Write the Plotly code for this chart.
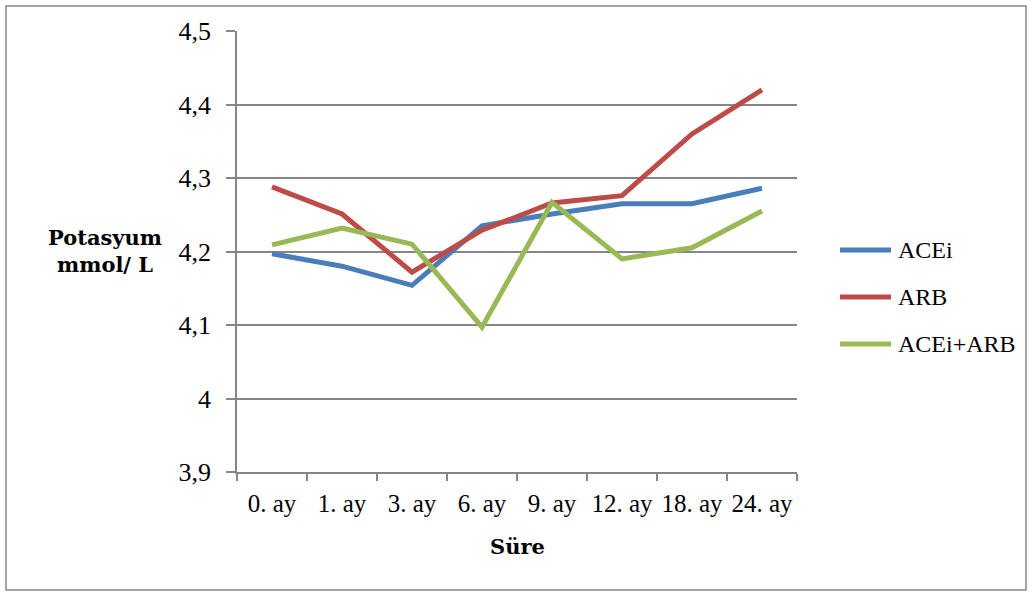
import plotly.graph_objects as go

# Serum potassium over follow-up, by treatment group
months = ["0. ay", "1. ay", "3. ay", "6. ay", "9. ay", "12. ay", "18. ay", "24. ay"]
acei = [4.197, 4.180, 4.154, 4.235, 4.251, 4.265, 4.265, 4.286]
arb = [4.288, 4.251, 4.172, 4.229, 4.266, 4.276, 4.360, 4.420]
acei_arb = [4.209, 4.232, 4.210, 4.097, 4.267, 4.190, 4.205, 4.255]

series = [
    ("ACEi", acei, "#4A7EBB"),
    ("ARB", arb, "#BE4B48"),
    ("ACEi+ARB", acei_arb, "#98B954"),
]

y_ticks = [3.9, 4.0, 4.1, 4.2, 4.3, 4.4, 4.5]
y_tick_text = ["3,9", "4", "4,1", "4,2", "4,3", "4,4", "4,5"]

FONT = "Liberation Serif"
BOLD_FONT = "DejaVu Serif"
W, H = 1032, 594
L, R, T, B = 237, 235, 31, 122
pw, ph = W - L - R, H - T - B


def px_x(x):
    return (x - L) / pw


def px_y(y):
    return (H - B - y) / ph


fig = go.Figure()
for name, vals, color in series:
    fig.add_trace(go.Scatter(
        x=months, y=vals, name=name, mode="lines",
        line=dict(color=color, width=5),
        showlegend=False,
    ))

shapes = [dict(
    type="rect", xref="paper", yref="paper",
    x0=px_x(6), x1=px_x(1026), y0=px_y(590), y1=px_y(6),
    line=dict(color="#868686", width=1.5), fillcolor="rgba(0,0,0,0)",
    layer="below",
)]
annotations = [
    dict(text="<b>Potasyum<br>mmol/ L</b>", xref="paper", yref="paper",
         x=px_x(105), y=px_y(251), xanchor="center", yanchor="middle",
         showarrow=False, font=dict(family=BOLD_FONT, size=21), align="center"),
    dict(text="<b>Süre</b>", xref="paper", yref="paper",
         x=0.5, y=px_y(546), xanchor="center", yanchor="middle",
         showarrow=False, font=dict(family=BOLD_FONT, size=21)),
]

# Legend: a short thick line with the series name to its right
for i, (name, vals, color) in enumerate(series):
    ly = 250 + 47 * i
    shapes.append(dict(
        type="line", xref="paper", yref="paper",
        x0=px_x(840), x1=px_x(891), y0=px_y(ly), y1=px_y(ly),
        line=dict(color=color, width=5),
    ))
    annotations.append(dict(
        text=name, xref="paper", yref="paper",
        x=px_x(896), y=px_y(ly), xanchor="left", yanchor="middle",
        showarrow=False, font=dict(family=FONT, size=24),
    ))

fig.update_layout(
    width=W, height=H,
    margin=dict(l=L, r=R, t=T, b=B),
    plot_bgcolor="white", paper_bgcolor="white",
    font=dict(family=FONT, size=26, color="#000000"),
    showlegend=False,
    xaxis=dict(
        type="category", tickson="boundaries", tickangle=0,
        ticks="outside", ticklen=7, tickcolor="#868686", tickwidth=1.5,
        showline=True, linecolor="#868686", linewidth=1.5,
        showgrid=False, zeroline=False,
        tickfont=dict(family=FONT, size=25),
        ticklabelstandoff=8,
        range=[-0.5, len(months) - 0.5],
    ),
    yaxis=dict(
        range=[3.9, 4.5], tickvals=y_ticks, ticktext=y_tick_text,
        ticks="outside", ticklen=9, tickcolor="#868686", tickwidth=1.5,
        showline=True, linecolor="#868686", linewidth=1.5,
        showgrid=True, gridcolor="#868686", gridwidth=1.5,
        zeroline=False,
        tickfont=dict(family=FONT, size=26),
        ticklabelstandoff=10,
    ),
    shapes=shapes,
    annotations=annotations,
)

fig.write_html("out.html")
